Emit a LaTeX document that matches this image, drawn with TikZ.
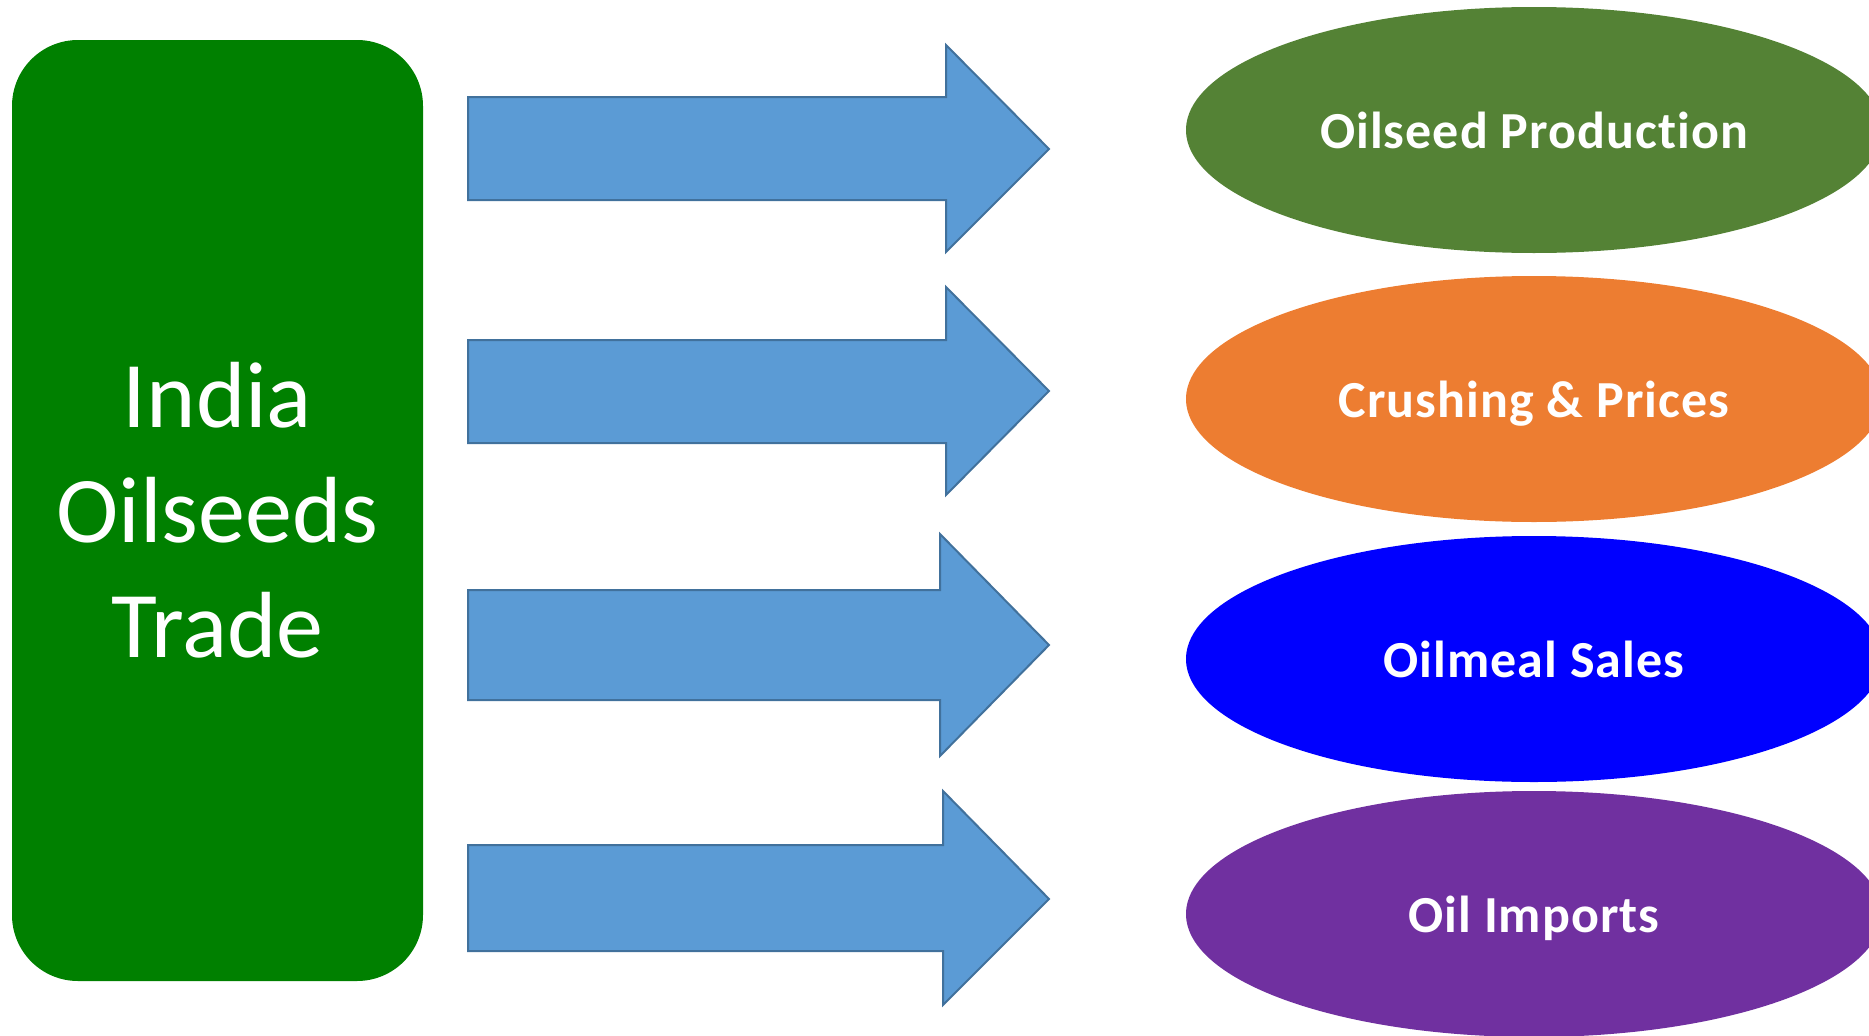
\documentclass[tikz,border=0pt]{standalone}
\usepackage{fontspec}
\setmainfont{Carlito}[Ligatures=NoCommon]
\usepackage{tikz}
\usetikzlibrary{shapes.geometric}

\definecolor{boxgreen}{HTML}{008000}
\definecolor{arrblue}{HTML}{5B9BD5}
\definecolor{arrline}{HTML}{41719C}
\definecolor{ogreen}{HTML}{548235}
\definecolor{oorange}{HTML}{ED7D31}
\definecolor{oblue}{HTML}{0000FF}
\definecolor{opurple}{HTML}{7030A0}

\begin{document}
\begin{tikzpicture}[x=1pt,y=-1pt,
main/.style={rectangle,rounded corners=66pt,fill=boxgreen,text=white,align=center,minimum width=411pt,minimum height=941pt,inner sep=0pt,font=\fontsize{94}{115}\selectfont},
blk/.style={fill=arrblue,draw=arrline,line width=2pt,line join=miter},
topic/.style={ellipse,text=white,minimum width=696pt,minimum height=246pt,inner sep=0pt,text depth=0pt,font=\addfontfeature{LetterSpace=2}\fontsize{52}{60}\selectfont\bfseries}]
\useasboundingbox (0,0) rectangle (1869,1036);
\node[main](trade) at (217.5,510.5){India\\Oilseeds\\Trade};
% block arrows: shaft top/bottom, head top/bottom, head start, tip y
\foreach \st/\sb/\ht/\hb/\hx/\ty in {97/200/45/252/946/149, 340/443/287/495/946/391, 590/700/534/756/940/645, 845/951/791/1005/943/899}
  \draw[blk] (468,\st) -- (\hx,\st) -- (\hx,\ht) -- (1049,\ty) -- (\hx,\hb) -- (\hx,\sb) -- (468,\sb) -- cycle;
\node[topic,fill=ogreen](prod) at (1534,130){Oilseed Production};
\node[topic,fill=oorange](crush) at (1534,399){Crushing \& Prices};
\node[topic,fill=oblue](meal) at (1534,659){Oilmeal Sales};
\node[topic,fill=opurple](imp) at (1534,914){Oil Imports};
\end{tikzpicture}
\end{document}
